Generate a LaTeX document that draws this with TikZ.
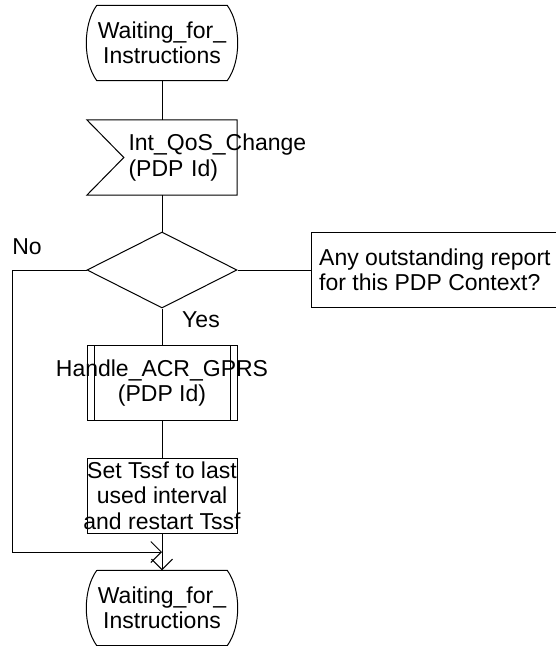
\documentclass[tikz,border=0pt]{standalone}
\usepackage{fontspec}
\setmainfont{Liberation Sans}
\usetikzlibrary{arrows.meta,positioning,shapes.geometric,calc}

\newcommand{\wide}[1]{\makebox[0pt]{#1}}
\newcommand{\wideleft}[1]{\makebox[0pt][l]{#1}}
% state symbol: flat top and bottom, bulging sides
\newcommand{\stateoutline}[1]{%
  \draw[line width=1pt] ([xshift=10pt]#1.north west) -- ([xshift=-10pt]#1.north east)
    .. controls ([xshift=4pt,yshift=-19pt]#1.north east) and ([xshift=4pt,yshift=19pt]#1.south east) .. ([xshift=-10pt]#1.south east)
    -- ([xshift=10pt]#1.south west)
    .. controls ([xshift=-4pt,yshift=19pt]#1.south west) and ([xshift=-4pt,yshift=-19pt]#1.north west) .. ([xshift=10pt]#1.north west);}
% input signal: box with a notch on the left
\newcommand{\inputoutline}[1]{%
  \draw[line width=1pt] (#1.north west) -- (#1.north east) -- (#1.south east) -- (#1.south west)
    -- ([xshift=37pt]#1.west) -- cycle;}

\begin{document}
\begin{tikzpicture}[x=1pt, y=-1pt,
  sdl/.style={minimum width=150pt, minimum height=75pt, inner sep=0pt, font=\fontsize{23}{25.5}\selectfont, align=center},
  statesym/.style={sdl},
  inputsym/.style={sdl, text width=67pt, align=left},
  procsym/.style={sdl, draw, line width=1pt, path picture={
      \draw[line width=1pt] ([xshift=7pt]path picture bounding box.north west) -- ([xshift=7pt]path picture bounding box.south west);
      \draw[line width=1pt] ([xshift=-7pt]path picture bounding box.north east) -- ([xshift=-7pt]path picture bounding box.south east);}},
  tasksym/.style={sdl, draw, line width=1pt},
  decision/.style={diamond, draw, line width=1pt, minimum width=150pt, minimum height=76pt, inner sep=0pt},
  note/.style={font=\fontsize{23}{25.5}\selectfont, align=left, inner xsep=8pt, minimum height=74pt},
  lbl/.style={font=\fontsize{23}{25.5}\selectfont},
  conn/.style={line width=1pt},
  flowtip/.style={-{Straight Barb[length=10.5pt, width=21pt]}}]
\useasboundingbox (0,0) rectangle (556,646);
\clip (0,0) rectangle (556,646);

\node[statesym] (top) at (162,43) {Waiting\_for\_\\Instructions};
\stateoutline{top}
\node[inputsym] (sig) at (162,157.5) {\wideleft{Int\_QoS\_Change}\\\wideleft{(PDP Id)}};
\inputoutline{sig}
\node[decision] (dec) at (162,270) {};
\node[note, anchor=west] (cmt) at (311,270) {Any outstanding report\\for this PDP Context?};
\draw[conn] (cmt.north east) -| (cmt.south west) -- (cmt.south east);
\node[procsym] (proc) at (162,383) {\wide{Handle\_ACR\_GPRS}\\(PDP Id)};
\node[tasksym] (task) at (162,495.5) {\wide{Set Tssf to last}\\used interval\\\wide{and restart Tssf}};
\node[statesym] (bot) at (162,608) {Waiting\_for\_\\Instructions};
\stateoutline{bot}

\node[lbl] (no) at (27,247) {No};
\node[lbl] (yes) at (201,320) {Yes};

\coordinate (ret) at (12,552);
\coordinate (join) at (162,552);

\draw[conn] (top.south) -- (sig.north);
\draw[conn] (sig.south) -- (dec.north);
\draw[conn] (dec.east) -- (cmt.west);
\draw[conn] (dec.south) -- (proc.north);
\draw[conn] (proc.south) -- (task.north);
\draw[conn, flowtip] (task.south) -- (bot.north);
\draw[conn, flowtip] (dec.west) -| (ret) -- (join);
\end{tikzpicture}
\end{document}
